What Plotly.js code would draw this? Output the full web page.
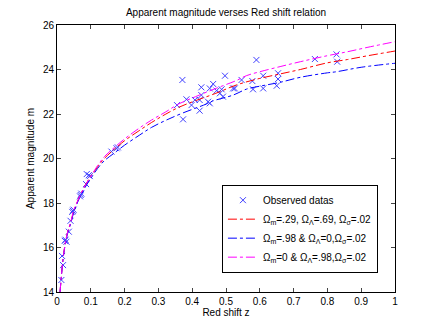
<!DOCTYPE html>
<html>
<head>
<meta charset="utf-8">
<script src="https://cdn.plot.ly/plotly-3.0.1.min.js"></script>
<style>html,body{margin:0;padding:0;background:#fff;}#chart{width:436px;height:327px;}</style>
</head>
<body>
<div id="chart"></div>
<script>
// Observed data (red shift z, apparent magnitude m)
var zObs = [0.013,0.018,0.015,0.023,0.028,0.025,0.035,0.040,0.045,0.047,0.049,0.068,0.070,0.072,0.086,0.088,0.097,0.094,0.161,0.176,0.180,
  0.355,0.371,0.373,0.383,0.398,0.408,0.422,0.422,0.427,0.427,0.447,0.452,0.452,0.462,0.472,0.482,0.487,0.491,0.497,
  0.521,0.526,0.546,0.578,0.580,0.590,0.610,0.610,0.650,0.654,0.654,0.763,0.827,0.829];
var mObs = [14.54,15.21,15.62,16.30,16.26,16.35,16.71,17.20,17.60,17.65,17.70,18.30,18.36,18.42,18.85,19.30,19.21,19.25,20.31,20.46,20.50,
  22.40,23.53,21.76,22.66,22.40,22.63,22.63,22.15,23.20,22.85,22.55,23.15,22.48,23.35,23.05,22.93,23.11,22.78,23.72,
  23.15,23.15,23.53,23.48,23.11,24.43,23.72,23.15,23.27,23.83,23.57,24.47,24.68,24.35];

// Model curves
var zRed = [0.009,0.02,0.03,0.04,0.05,0.06,0.08,0.10,0.12,0.14,0.17,0.20,0.24,0.28,0.32,0.36,0.41,0.47,0.53,0.60,0.66,0.72,0.80,0.86,0.92,1.00];
var mRed = [14.0,15.75,16.6,17.1,17.65,18.05,18.7,19.2,19.62,20.0,20.42,20.8,21.22,21.62,21.98,22.3,22.6,22.93,23.3,23.6,23.8,24.0,24.3,24.45,24.62,24.83];

var zBlue = [0.009,0.02,0.03,0.04,0.05,0.06,0.08,0.10,0.12,0.14,0.17,0.20,0.245,0.28,0.324,0.373,0.442,0.46,0.521,0.561,0.60,0.659,0.72,0.80,0.827,0.90,1.00];
var mBlue = [14.0,15.72,16.55,17.05,17.6,18.0,18.62,19.1,19.55,19.9,20.25,20.6,21.06,21.4,21.73,22.05,22.45,22.58,22.85,23.12,23.25,23.42,23.65,23.85,23.9,24.1,24.28];

var zMag = [0.009,0.02,0.03,0.04,0.05,0.06,0.08,0.10,0.12,0.14,0.17,0.20,0.24,0.28,0.32,0.36,0.41,0.47,0.53,0.56,0.60,0.66,0.72,0.80,0.86,0.92,1.00];
var mMag = [14.0,15.75,16.6,17.1,17.7,18.05,18.7,19.2,19.68,20.08,20.5,20.88,21.33,21.73,22.08,22.45,22.78,23.15,23.5,23.72,23.9,24.13,24.35,24.62,24.8,25.0,25.25];

var legendNames = [
  'Observed datas',
  '\u03A9<sub>m</sub>=.29, \u03A9<sub>\u039B</sub>=.69, \u03A9<sub>\u03C3</sub>=.02',
  '\u03A9<sub>m</sub>=.98 &amp; \u03A9<sub>\u039B</sub>=0,\u03A9<sub>\u03C3</sub>=.02',
  '\u03A9<sub>m</sub>=0 &amp; \u03A9<sub>\u039B</sub>=.98,\u03A9<sub>\u03C3</sub>=.02'
];
var xTicks = [0,0.1,0.2,0.3,0.4,0.5,0.6,0.7,0.8,0.9,1];
var xTickText = ['0','0.1','0.2','0.3','0.4','0.5','0.6','0.7','0.8','0.9','1'];
var yTicks = [14,16,18,20,22,24,26];

var traces = [
  {x: zObs, y: mObs, mode: 'markers', type: 'scatter', name: legendNames[0],
   marker: {symbol: 'x-thin', size: 6, color: '#0000ff', line: {color: '#4040ff', width: 1}}},
  {x: zRed, y: mRed, mode: 'lines', type: 'scatter', name: legendNames[1],
   line: {color: '#ff0000', width: 1, dash: 'dashdot', shape: 'spline'}},
  {x: zBlue, y: mBlue, mode: 'lines', type: 'scatter', name: legendNames[2],
   line: {color: '#0000ff', width: 1, dash: 'dashdot', shape: 'spline'}},
  {x: zMag, y: mMag, mode: 'lines', type: 'scatter', name: legendNames[3],
   line: {color: '#ff00ff', width: 1, dash: 'dashdot', shape: 'spline'}}
];

var fontFam = 'Liberation Sans, Arial, sans-serif';
var layout = {
  width: 436, height: 327,
  margin: {l: 57, r: 41, t: 25, b: 35, pad: 0},
  paper_bgcolor: '#ffffff', plot_bgcolor: '#ffffff',
  font: {family: fontFam, size: 10, color: '#000'},
  title: {text: 'Apparent magnitude verses Red shift relation', font: {size: 10, color: '#000'},
          x: 0.5, xref: 'paper', y: 1, yref: 'container', yanchor: 'top', pad: {t: 9}},
  xaxis: {range: [0, 1], tickvals: xTicks, ticktext: xTickText, ticks: 'inside', ticklen: 4,
          showgrid: false, zeroline: false, showline: true, linecolor: '#000', linewidth: 1,
          mirror: 'ticks', tickfont: {size: 10, color: '#000'},
          title: {text: 'Red shift z', font: {size: 10, color: '#000'}, standoff: 1}},
  yaxis: {range: [14, 26], tickvals: yTicks, ticks: 'inside', ticklen: 4,
          showgrid: false, zeroline: false, showline: true, linecolor: '#000', linewidth: 1,
          mirror: 'ticks', tickfont: {size: 10, color: '#000'},
          title: {text: 'Apparent magnitude m', font: {size: 10, color: '#000'}, standoff: 6}},
  showlegend: true,
  legend: {x: 0.488, y: 0.402, xanchor: 'left', yanchor: 'top', bgcolor: '#ffffff',
           bordercolor: '#000', borderwidth: 1, font: {size: 10, color: '#000'},
           itemwidth: 30, tracegroupgap: 0}
};

Plotly.newPlot('chart', traces, layout, {displayModeBar: false, staticPlot: true});
</script>
</body>
</html>
